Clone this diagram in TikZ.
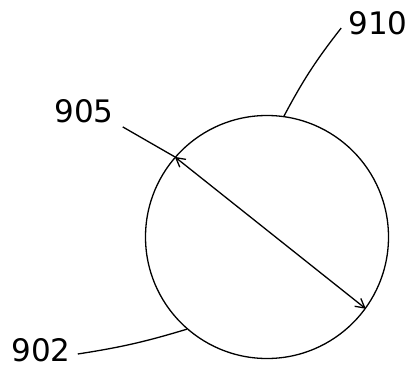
\documentclass[tikz,border=0pt]{standalone}
\usepackage{fontspec}
\setmainfont{DejaVu Sans}
\usetikzlibrary{arrows.meta}
\tikzset{
  refnum/.style={font=\fontsize{31}{36}\selectfont,inner sep=1pt},
  leader/.style={line width=1.3pt},
  dimline/.style={line width=1.3pt,{Straight Barb[length=9pt,width=10pt]}-{Straight Barb[length=9pt,width=10pt]}}
}

\begin{document}
\begin{tikzpicture}[x=1pt,y=-1pt]
  \useasboundingbox (0,0) rectangle (415,369);
  % the disc
  \node[draw,circle,line width=1.3pt,inner sep=0pt,minimum size=243pt] (disc) at (267,237) {};
  % reference numerals
  \node[refnum] (lbl910) at (378,23) {910};
  \node[refnum] (lbl905) at (84,111) {905};
  \node[refnum] (lbl902) at (41,350) {902};
  % leaders
  \draw[leader] (disc.82) to[bend left=5] ([shift={(-6,5)}]lbl910.west);
  \draw[leader] ([shift={(6,4)}]lbl902.east) to[bend right=4] (disc.229);
  % diameter
  \draw[leader] ([shift={(8,3)}]lbl905.south east) -- (disc.139);
  \draw[dimline] (disc.139) -- (disc.-36);
\end{tikzpicture}
\end{document}
